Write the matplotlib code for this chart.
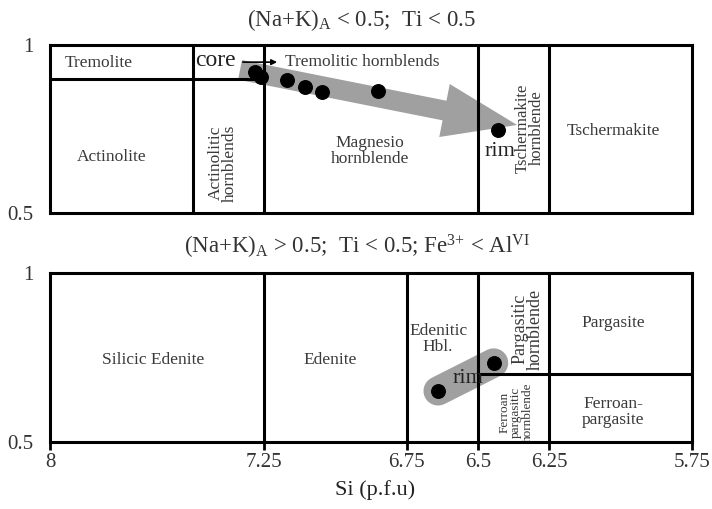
import matplotlib
matplotlib.use("Agg")
import matplotlib.pyplot as plt
from matplotlib.patches import FancyArrow
from matplotlib.transforms import IdentityTransform

plt.rcParams['font.family'] = ['Liberation Serif', 'DejaVu Serif']
plt.rcParams['mathtext.fontset'] = 'custom'
plt.rcParams['mathtext.rm'] = 'Liberation Serif'
plt.rcParams['mathtext.it'] = 'Liberation Serif:italic'

# ---- data ----
si_ticks = [8, 7.25, 6.75, 6.5, 6.25, 5.75]
si_tick_labels = ["8", "7.25", "6.75", "6.5", "6.25", "5.75"]
y_ticks = [0.5, 1]
y_tick_labels = ["0.5", "1"]

top_si = [7.28, 7.26, 7.17, 7.105, 7.045, 6.85, 6.43]
top_mg = [0.92, 0.905, 0.896, 0.875, 0.86, 0.863, 0.747]
bottom_si = [6.64, 6.445]
bottom_mg = [0.651, 0.734]

# field boundaries
top_vlines = [7.5, 7.25, 6.5, 6.25]
top_hline = (0.9, 8, 7.25)
bottom_vlines = [7.25, 6.75, 6.5, 6.25]
bottom_hline = (0.7, 6.5, 5.75)

trend_start = (7.334, 0.926)
trend_end = (6.363, 0.762)

TXT = '#3a3a3a'
GRAY = '#a0a0a0'
LW = 2.2

fig = plt.figure(figsize=(7.12, 5.09), dpi=100)
ax1 = fig.add_axes([50/712, 1-213/509, 642/712, 168/509])
ax2 = fig.add_axes([50/712, 1-442/509, 642/712, 169/509])

for ax in (ax1, ax2):
    ax.set_xlim(8, 5.75)
    ax.set_ylim(0.5, 1)
    for s in ax.spines.values():
        s.set_linewidth(LW)
        s.set_zorder(4)
    ax.set_yticks(y_ticks)
    ax.set_yticklabels(y_tick_labels)
    ax.tick_params(axis='y', length=0, pad=12, labelsize=15, labelcolor='#333333')

ax1.set_xticks([])
ax2.set_xticks(si_ticks)
ax2.set_xticklabels(si_tick_labels)
ax2.tick_params(axis='x', length=6, width=2, direction='out', pad=2, labelsize=15,
                labelcolor='#333333')

# boundaries
for x in top_vlines:
    ax1.axvline(x, color='black', lw=LW, zorder=2)
ax1.plot([top_hline[1], top_hline[2]], [top_hline[0]]*2, color='black', lw=LW, zorder=2)
for x in bottom_vlines:
    ax2.axvline(x, color='black', lw=LW, zorder=2)
ax2.plot([bottom_hline[1], bottom_hline[2]], [bottom_hline[0]]*2, color='black', lw=LW, zorder=2)

# trend arrow (top), drawn in pixel space from data endpoints
(sx, sy) = ax1.transData.transform(trend_start)
(ex, ey) = ax1.transData.transform(trend_end)
arr = FancyArrow(sx, sy, ex - sx, ey - sy, width=20, head_width=54, head_length=74,
                 length_includes_head=True, color=GRAY, lw=0, zorder=1,
                 transform=IdentityTransform())
ax1.add_patch(arr)
ax1.scatter(top_si, top_mg, s=95, color='black', zorder=5)

# bottom capsule
ax2.plot(bottom_si, bottom_mg, color=GRAY, lw=21, solid_capstyle='round', zorder=1)
ax2.scatter(bottom_si, bottom_mg, s=95, color='black', zorder=5)

# titles
ax1.text(0.485, 1.15, r"(Na+K)$_{\rm A}$ < 0.5;  Ti < 0.5", transform=ax1.transAxes,
         ha='center', va='center', fontsize=16.5, color='#333333')
ax2.text(0.478, 1.155, r"(Na+K)$_{\rm A}$ > 0.5;  Ti < 0.5; Fe$^{3{+}}$ < Al$^{\rm VI}$",
         transform=ax2.transAxes, ha='center', va='center', fontsize=16.5, color='#333333')

# top labels
fs = 12.5
ax1.text(7.828, 0.946, "Tremolite", ha='center', va='center', fontsize=fs, color=TXT)
ax1.text(7.42, 0.955, "core", ha='center', va='center', fontsize=17, color='#222222')
ax1.annotate("", xy=(7.204, 0.949), xytext=(7.324, 0.949),
             arrowprops=dict(arrowstyle='-|>', color='black', lw=1.2, mutation_scale=8,
                             shrinkA=0, shrinkB=0))
ax1.text(7.176, 0.949, "Tremolitic hornblends", ha='left', va='center', fontsize=fs, color=TXT)
ax1.text(7.783, 0.667, "Actinolite", ha='center', va='center', fontsize=fs, color=TXT)
ax1.text(7.394, 0.649, "Actinolitic\nhornblends", ha='center', va='center', fontsize=fs,
         color=TXT, rotation=90, linespacing=0.9)
ax1.text(6.88, 0.685, "Magnesio\nhornblende", ha='center', va='center', fontsize=fs,
         color=TXT, linespacing=0.95)
ax1.text(6.423, 0.682, "rim", ha='center', va='center', fontsize=16, color='#222222')
ax1.text(6.318, 0.753, "Tschermakite\nhornblende", ha='center', va='center', fontsize=12,
         color=TXT, rotation=90, linespacing=0.9)
ax1.text(6.027, 0.744, "Tschermakite", ha='center', va='center', fontsize=fs, color=TXT)

# bottom labels
ax2.text(7.639, 0.743, "Silicic Edenite", ha='center', va='center', fontsize=fs, color=TXT)
ax2.text(7.019, 0.743, "Edenite", ha='center', va='center', fontsize=fs, color=TXT)
ax2.text(6.64, 0.805, "Edenitic\nHbl.", ha='center', va='center', fontsize=fs, color=TXT,
         linespacing=0.95)
ax2.text(6.535, 0.689, "rim", ha='center', va='center', fontsize=16, color='#222222', zorder=6)
ax2.text(6.325, 0.834, "Pargasitic\nhornblende", ha='center', va='center', fontsize=13,
         color=TXT, rotation=90, linespacing=0.9)
ax2.text(6.367, 0.589, "Ferroan\npargasitic\nhornblende", ha='center', va='center',
         fontsize=9.5, color=TXT, rotation=90, linespacing=0.95)
ax2.text(6.027, 0.852, "Pargasite", ha='center', va='center', fontsize=fs, color=TXT)
ax2.text(6.027, 0.589, "Ferroan-\npargasite", ha='center', va='center', fontsize=fs,
         color=TXT, linespacing=0.95)

fig.text(375/712, 1-490/509, "Si (p.f.u)", ha='center', va='center', fontsize=16, color='#222222')

fig.savefig("out.png", dpi=100)
